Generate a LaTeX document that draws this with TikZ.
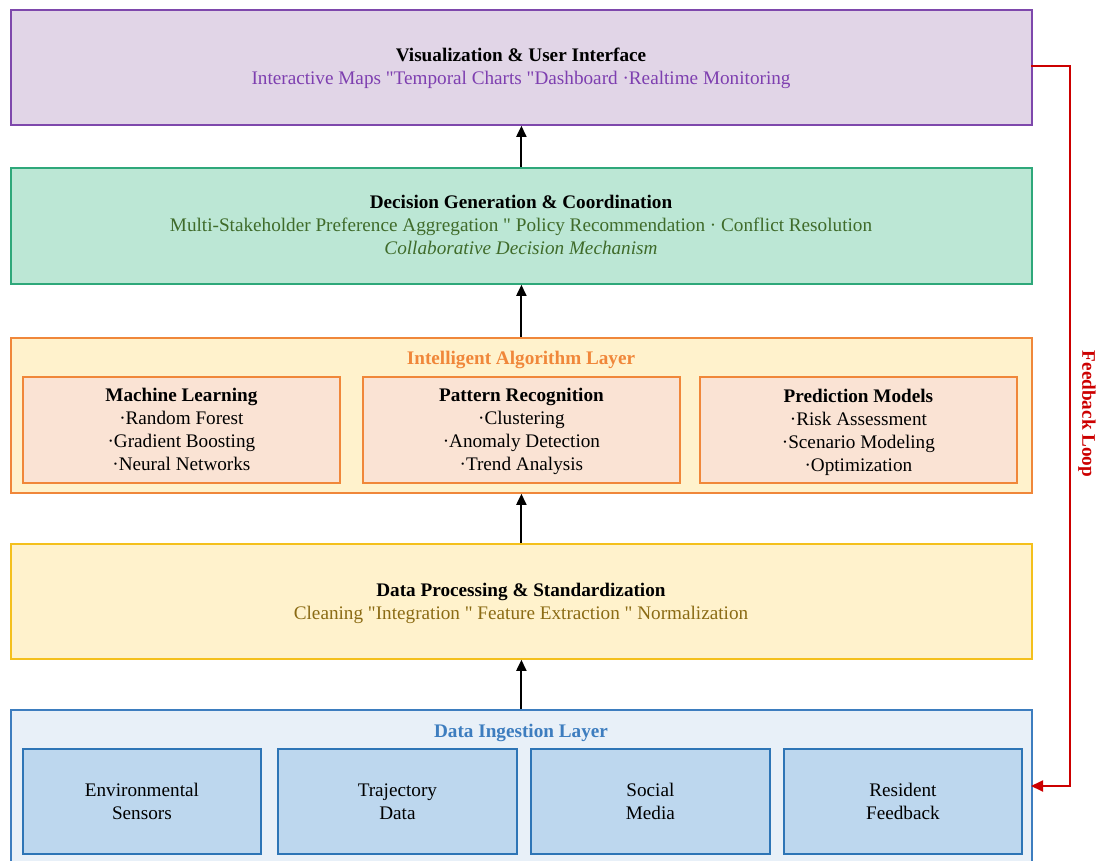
\documentclass[tikz,border=0pt]{standalone}
\usepackage{fontspec}
\setmainfont{Liberation Serif}[Ligatures=TeXOff]
\usetikzlibrary{arrows.meta}
\definecolor{vizfill}{HTML}{E1D5E7}
\definecolor{vizline}{HTML}{7E48AC}
\definecolor{viztext}{HTML}{7E3FB0}
\definecolor{decfill}{HTML}{BCE7D5}
\definecolor{decline}{HTML}{2EA87A}
\definecolor{dectext}{HTML}{3F6B2A}
\definecolor{algfill}{HTML}{FFF2CC}
\definecolor{algline}{HTML}{F0873A}
\definecolor{algsub}{HTML}{FAE3D4}
\definecolor{proline}{HTML}{F4C01C}
\definecolor{protext}{HTML}{8B6B14}
\definecolor{ingfill}{HTML}{E8F0F8}
\definecolor{ingline}{HTML}{3D7DBF}
\definecolor{ingsub}{HTML}{BDD7EE}
\definecolor{ingsubline}{HTML}{2E75B6}
\definecolor{fbred}{HTML}{CC0000}
\begin{document}
\begin{tikzpicture}[x=1pt,y=-1pt,
  font=\fontsize{19.2}{23}\selectfont,
  layer/.style={draw,line width=1.8pt,inner sep=0pt,anchor=north west},
  subbox/.style={draw,line width=1.8pt,inner sep=0pt,anchor=north west,align=center},
  uparrow/.style={-{Triangle[length=11pt,width=10pt]},line width=1.9pt,black},
  ttl/.style={font=\fontsize{19.2}{23}\selectfont\bfseries}]
\useasboundingbox (0,0) rectangle (1096,861);

% layer frames
\node[layer,fill=vizfill,draw=vizline,minimum width=1021pt,minimum height=115pt] (viz) at (10,9) {};
\node[layer,fill=decfill,draw=decline,minimum width=1021pt,minimum height=116pt] (dec) at (10,167) {};
\node[layer,fill=algfill,draw=algline,minimum width=1021pt,minimum height=155pt] (alg) at (10,337) {};
\node[layer,fill=algfill,draw=proline,minimum width=1021pt,minimum height=115pt] (pro) at (10,543) {};
\node[layer,fill=ingfill,draw=ingline,minimum width=1021pt,minimum height=165pt] (ing) at (10,709) {};

% visualization
\node[align=center] (vizt) at (521,68) {\textbf{Visualization \& User Interface}\\
  \textcolor{viztext}{Interactive Maps "Temporal Charts "Dashboard ·Realtime Monitoring}};

% decision
\node[align=center] (dect) at (521,225) {\textbf{Decision Generation \& Coordination}\\
  \textcolor{dectext}{Multi-Stakeholder Preference Aggregation " Policy Recommendation · Conflict Resolution}\\
  \textcolor{dectext}{\itshape Collaborative Decision Mechanism}};

% algorithm layer
\node[text=algline,ttl] (algt) at (521,360) {Intelligent Algorithm Layer};
\node[subbox,fill=algsub,draw=algline,minimum width=317pt,minimum height=106pt] (ml) at (22,376) {};
\node[subbox,fill=algsub,draw=algline,minimum width=317pt,minimum height=106pt] (pr) at (362,376) {};
\node[subbox,fill=algsub,draw=algline,minimum width=317pt,minimum height=106pt] (pm) at (699,376) {};
\node[align=center] at (ml.center) {\textbf{Machine Learning}\\·Random Forest\\·Gradient Boosting\\·Neural Networks};
\node[align=center] at ([yshift=-2pt]pr.center) {\textbf{Pattern Recognition}\\·Clustering\\·Anomaly Detection\\·Trend Analysis};
\node[align=center] at ([yshift=-2pt]pm.center) {\textbf{Prediction Models}\\·Risk Assessment\\·Scenario Modeling\\·Optimization};

% processing
\node[align=center] (prot) at (521,603) {\textbf{Data Processing \& Standardization}\\
  \textcolor{protext}{Cleaning "Integration " Feature Extraction " Normalization}};

% ingestion
\node[text=ingline,ttl] (ingt) at (521,733) {Data Ingestion Layer};
\node[subbox,fill=ingsub,draw=ingsubline,minimum width=238pt,minimum height=105pt] (env) at (22,748) {Environmental\\Sensors};
\node[subbox,fill=ingsub,draw=ingsubline,minimum width=239pt,minimum height=105pt] (traj) at (277,748) {Trajectory\\Data};
\node[subbox,fill=ingsub,draw=ingsubline,minimum width=239pt,minimum height=105pt] (soc) at (530,748) {Social\\Media};
\node[subbox,fill=ingsub,draw=ingsubline,minimum width=238pt,minimum height=105pt] (res) at (783,748) {Resident\\Feedback};

% upward flow
\draw[uparrow] (ing.north) -- (pro.south);
\draw[uparrow] (pro.north) -- (alg.south);
\draw[uparrow] (alg.north) -- (dec.south);
\draw[uparrow] (dec.north) -- (viz.south);

% feedback loop
\coordinate (fbtop) at (1031,66);
\coordinate (fbbot) at (1031,786);
\draw[fbred,line width=1.8pt,-{Triangle[length=12pt,width=11pt]}]
  (fbtop) -- (1070,66) -- (1070,786) -- (fbbot);
\node[text=fbred,font=\fontsize{19.2}{23}\selectfont\bfseries,rotate=-90] (fbl) at (1087,414) {Feedback Loop};
\end{tikzpicture}
\end{document}
